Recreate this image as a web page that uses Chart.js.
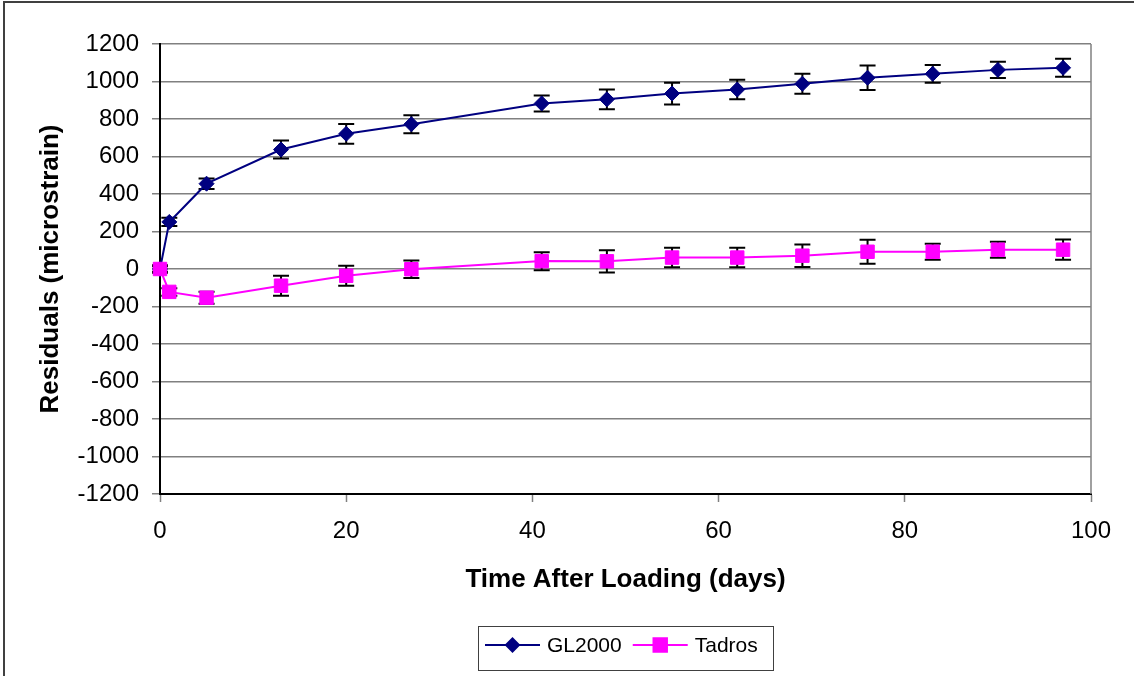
<!DOCTYPE html>
<html>
<head>
<meta charset="utf-8">
<script src="https://cdn.jsdelivr.net/npm/chart.js@4/dist/chart.umd.min.js"></script>
<style>
html,body{margin:0;padding:0;background:#fff;overflow:hidden}
#wrap{position:relative;width:1134px;height:676px}
canvas{display:block}
</style>
</head>
<body>
<div id="wrap"><canvas id="c" width="1134" height="676"></canvas></div>
<script>
// ---- data ----
const days      = [0, 1, 5, 13, 20, 27, 41, 48, 55, 62, 69, 76, 83, 90, 97];
const gl2000    = [0, 251, 455, 637, 721, 772, 883, 905, 936, 957, 988, 1020, 1041, 1062, 1073];
const gl2000Err = [15, 22, 28, 48, 53, 48, 43, 53, 58, 52, 53, 65, 47, 43, 48];
const tadros    = [0, -122, -153, -89, -36, -1, 42, 41, 61, 61, 71, 92, 92, 103, 103];
const tadrosErr = [20, 20, 32, 53, 53, 47, 48, 59, 52, 52, 60, 64, 43, 43, 54];
const seriesNames = ['GL2000', 'Tadros'];
const xTitle = 'Time After Loading (days)';
const yTitle = 'Residuals (microstrain)';
const xMin = 0, xMax = 100, xStep = 20;
const yMin = -1200, yMax = 1200, yStep = 200;

const FONT = '"Liberation Sans", Arial, Helvetica, sans-serif';
Chart.defaults.font.family = FONT;
Chart.defaults.color = '#000';

function toPoints(xs, ys) { return xs.map((x, i) => ({x: x, y: ys[i]})); }

const framePlugin = {
  id: 'frame',
  beforeDraw(chart) {
    const ctx = chart.ctx;
    ctx.save();
    ctx.fillStyle = '#fff';
    ctx.fillRect(0, 0, chart.width, chart.height);
    ctx.strokeStyle = '#404040';
    ctx.lineWidth = 2;
    ctx.strokeRect(4, 2, chart.width + 10, chart.height + 10);
    ctx.restore();
  }
};

const plotBorderPlugin = {
  id: 'plotBorder',
  beforeDatasetsDraw(chart) {
    const a = chart.chartArea, ctx = chart.ctx;
    ctx.save();
    ctx.strokeStyle = '#808080';
    ctx.lineWidth = 1.5;
    ctx.beginPath();
    ctx.moveTo(a.right, a.top);
    ctx.lineTo(a.right, a.bottom);
    ctx.stroke();
    ctx.restore();
  }
};

const errorBarPlugin = {
  id: 'errorBars',
  beforeDatasetsDraw(chart) {
    const ctx = chart.ctx, xs = chart.scales.x, ys = chart.scales.y;
    ctx.save();
    ctx.strokeStyle = '#000';
    ctx.lineWidth = 2;
    chart.data.datasets.forEach(ds => {
      const errs = ds.errorBars || [];
      ds.data.forEach((p, j) => {
        const e = errs[j];
        if (e == null) return;
        const px = xs.getPixelForValue(p.x);
        const yTop = ys.getPixelForValue(p.y + e);
        const yBot = ys.getPixelForValue(p.y - e);
        const cap = 8;
        ctx.beginPath();
        ctx.moveTo(px, yTop); ctx.lineTo(px, yBot);
        ctx.moveTo(px - cap, yTop); ctx.lineTo(px + cap, yTop);
        ctx.moveTo(px - cap, yBot); ctx.lineTo(px + cap, yBot);
        ctx.stroke();
      });
    });
    ctx.restore();
  }
};

const boxLegendPlugin = {
  id: 'boxLegend',
  afterDraw(chart) {
    const ctx = chart.ctx;
    const cy = 645;
    let x = 485;
    const lineLen = 55, gapText = 7, gapItem = 11;
    ctx.save();
    ctx.font = '21px ' + FONT;
    ctx.textBaseline = 'middle';
    ctx.textAlign = 'left';
    const startX = x;
    chart.data.datasets.forEach(ds => {
      ctx.strokeStyle = ds.borderColor;
      ctx.lineWidth = 2;
      ctx.beginPath();
      ctx.moveTo(x, cy); ctx.lineTo(x + lineLen, cy);
      ctx.stroke();
      ctx.fillStyle = ds.pointBackgroundColor;
      ctx.strokeStyle = ds.pointBorderColor;
      Chart.helpers.drawPoint(ctx, {
        pointStyle: ds.pointStyle,
        radius: ds.legendRadius,
        rotation: 0,
        borderWidth: 1
      }, x + lineLen / 2, cy);
      ctx.fillStyle = '#000';
      ctx.fillText(ds.label, x + lineLen + gapText, cy + 1);
      x += lineLen + gapText + ctx.measureText(ds.label).width + gapItem;
    });
    const endX = x - gapItem;
    ctx.strokeStyle = '#404040';
    ctx.lineWidth = 1;
    ctx.strokeRect(Math.round(startX - 7) + 0.5, cy - 19 + 0.5, Math.round(endX + 15 - (startX - 7)), 44);
    ctx.restore();
  }
};

new Chart(document.getElementById('c'), {
  type: 'scatter',
  data: {
    datasets: [
      {
        label: seriesNames[0],
        data: toPoints(days, gl2000),
        errorBars: gl2000Err,
        showLine: true,
        clip: false,
        borderColor: '#000080',
        backgroundColor: '#000080',
        pointBackgroundColor: '#000080',
        pointBorderColor: '#000080',
        borderWidth: 2,
        pointStyle: 'rectRot',
        pointRadius: 7.5,
        legendRadius: 6.5,
        pointBorderWidth: 1,
        order: 1
      },
      {
        label: seriesNames[1],
        data: toPoints(days, tadros),
        errorBars: tadrosErr,
        showLine: true,
        clip: false,
        borderColor: '#FF00FF',
        backgroundColor: '#FF00FF',
        pointBackgroundColor: '#FF00FF',
        pointBorderColor: '#FF00FF',
        borderWidth: 2,
        pointStyle: 'rect',
        pointRadius: 9.5,
        legendRadius: 9.5,
        pointBorderWidth: 1,
        order: 0
      }
    ]
  },
  options: {
    responsive: false,
    animation: false,
    events: [],
    layout: { padding: { top: 44, right: 43, left: 0, bottom: 53 } },
    plugins: {
      legend: { display: false },
      tooltip: { enabled: false },
      title: { display: false }
    },
    scales: {
      x: {
        type: 'linear',
        min: xMin, max: xMax,
        afterFit(scale) { scale.height = 129; },
        ticks: {
          stepSize: xStep,
          font: { size: 24 },
          color: '#000',
          padding: 15,
          maxRotation: 0,
          callback: v => String(v)
        },
        grid: {
          drawOnChartArea: false,
          drawTicks: true,
          tickLength: 8,
          tickColor: '#808080',
          tickWidth: 1.5
        },
        border: { color: '#000', width: 2 },
        title: {
          display: true,
          text: xTitle,
          font: { size: 26, weight: 'bold' },
          color: '#000',
          padding: { top: 0, bottom: 28 }
        }
      },
      y: {
        type: 'linear',
        min: yMin, max: yMax,
        afterFit(scale) { scale.width = 160; },
        ticks: {
          stepSize: yStep,
          font: { size: 24 },
          color: '#000',
          padding: 13,
          callback: v => String(v)
        },
        grid: {
          color: '#808080',
          lineWidth: 1.5,
          drawTicks: true,
          tickLength: 8,
          tickColor: '#808080'
        },
        border: { color: '#000', width: 2 },
        title: {
          display: true,
          text: yTitle,
          font: { size: 26, weight: 'bold' },
          color: '#000',
          padding: { top: 35, bottom: 0 }
        }
      }
    }
  },
  plugins: [framePlugin, plotBorderPlugin, errorBarPlugin, boxLegendPlugin]
});
</script>
</body>
</html>
